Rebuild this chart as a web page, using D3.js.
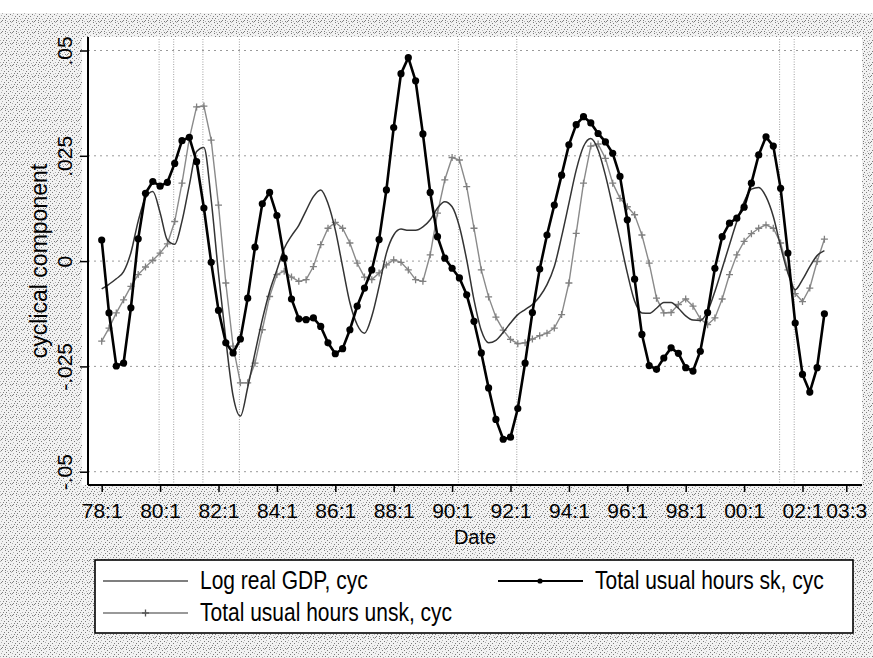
<!DOCTYPE html>
<html>
<head>
<meta charset="utf-8">
<script src="https://cdn.jsdelivr.net/npm/d3@7"></script>
<style>
  body { margin: 0; background: #fff; }
  svg { display: block; font-family: "Liberation Sans", Arial, sans-serif; }
</style>
</head>
<body>
<div id="chart"></div>
<script>
// quarterly data, 78:1 .. 02:4
let startYear = 1978;

let gdpCyc = [
  -0.0066, -0.0055, -0.0042, -0.0025, 0.0020, 0.0095, 0.0150, 0.0165, 0.0115, 0.0050,
  0.0040, 0.0095, 0.0180, 0.0260, 0.0270, 0.0145, -0.0030, -0.0186, -0.0320, -0.0368,
  -0.0300, -0.0218, -0.0139, -0.0072, -0.0021, 0.0030, 0.0060, 0.0085, 0.0120, 0.0153,
  0.0169, 0.0137, 0.0074, -0.0013, -0.0099, -0.0151, -0.0171, -0.0131, -0.0060, 0.0019,
  0.0062, 0.0076, 0.0073, 0.0073, 0.0081, 0.0098, 0.0126, 0.0141, 0.0129, 0.0082,
  0.0003, -0.0092, -0.0165, -0.0194, -0.0188, -0.0169, -0.0147, -0.0127, -0.0115, -0.0103,
  -0.0084, -0.0056, -0.0013, 0.0058, 0.0137, 0.0216, 0.0272, 0.0291, 0.0264, 0.0204,
  0.0129, 0.0051, -0.0028, -0.0095, -0.0123, -0.0124, -0.0112, -0.0098, -0.0098, -0.0112,
  -0.0130, -0.0140, -0.0141, -0.0119, -0.0072, -0.0017, 0.0039, 0.0094, 0.0141, 0.0171,
  0.0175, 0.0153, 0.0106, 0.0035, -0.0028, -0.0068, -0.0044, -0.0013, 0.0013, 0.0025
];

let hoursSk = [
  0.0050, -0.0123, -0.0249, -0.0242, -0.0111, 0.0053, 0.0161, 0.0189, 0.0178, 0.0187,
  0.0232, 0.0286, 0.0294, 0.0236, 0.0126, -0.0003, -0.0117, -0.0194, -0.0218, -0.0185,
  -0.0088, 0.0033, 0.0136, 0.0163, 0.0108, 0.0007, -0.0090, -0.0137, -0.0139, -0.0135,
  -0.0155, -0.0194, -0.0220, -0.0208, -0.0163, -0.0107, -0.0064, -0.0021, 0.0051, 0.0169,
  0.0317, 0.0445, 0.0483, 0.0428, 0.0302, 0.0163, 0.0058, 0.0007, -0.0017, -0.0040,
  -0.0080, -0.0143, -0.0218, -0.0301, -0.0376, -0.0423, -0.0418, -0.0350, -0.0242, -0.0122,
  -0.0019, 0.0062, 0.0133, 0.0204, 0.0276, 0.0324, 0.0343, 0.0328, 0.0303, 0.0283,
  0.0256, 0.0201, 0.0098, -0.0043, -0.0174, -0.0248, -0.0257, -0.0230, -0.0206, -0.0219,
  -0.0253, -0.0261, -0.0214, -0.0122, -0.0017, 0.0058, 0.0090, 0.0102, 0.0128, 0.0185,
  0.0252, 0.0295, 0.0273, 0.0173, 0.0019, -0.0147, -0.0269, -0.0311, -0.0253, -0.0125
];

let hoursUnsk = [
  -0.0190, -0.0159, -0.0123, -0.0092, -0.0060, -0.0032, -0.0014, 0.0002, 0.0019, 0.0041,
  0.0094, 0.0185, 0.0291, 0.0366, 0.0368, 0.0287, 0.0133, -0.0052, -0.0202, -0.0289,
  -0.0289, -0.0242, -0.0163, -0.0084, -0.0032, -0.0024, -0.0038, -0.0048, -0.0044, -0.0013,
  0.0039, 0.0078, 0.0092, 0.0078, 0.0043, -0.0005, -0.0038, -0.0044, -0.0028, -0.0009,
  0.0003, -0.0003, -0.0021, -0.0044, -0.0048, 0.0015, 0.0114, 0.0193, 0.0246, 0.0240,
  0.0177, 0.0078, -0.0021, -0.0085, -0.0133, -0.0164, -0.0186, -0.0196, -0.0194, -0.0185,
  -0.0177, -0.0171, -0.0159, -0.0127, -0.0052, 0.0066, 0.0185, 0.0273, 0.0278, 0.0244,
  0.0185, 0.0149, 0.0129, 0.0110, 0.0062, -0.0005, -0.0088, -0.0123, -0.0122, -0.0103,
  -0.0090, -0.0107, -0.0137, -0.0151, -0.0135, -0.0090, -0.0032, 0.0015, 0.0047, 0.0065,
  0.0078, 0.0086, 0.0078, 0.0043, -0.0021, -0.0077, -0.0096, -0.0064, -0.0001, 0.0052
];

// x ticks, in quarters since 78:1
let xTicks = [0, 8, 16, 24, 32, 40, 48, 56, 64, 72, 80, 88, 96, 102];
let yTicks = [-0.05, -0.025, 0, 0.025, 0.05];
let yTickLabels = ['-.05', '-.025', '0', '.025', '.05'];
// vertical reference lines (quarters)
let refLines = [8, 10, 14, 19, 49, 57, 93, 95];

let seriesNames = ['Log real GDP, cyc', 'Total usual hours sk, cyc', 'Total usual hours unsk, cyc'];

function quarterLabel(q) {
  let yr = (startYear + Math.floor(q / 4)) % 100;
  return String(yr).padStart(2, '0') + ':' + (q % 4 + 1);
}

let width = 873, height = 658;
let svg = d3.select('#chart').append('svg')
  .attr('width', width)
  .attr('height', height);

// scanned halftone look around the plot (hand-placed dots in an 11px tile)
let toneDots = [
  [0, 0], [5, 0], [8, 1], [2, 2], [6, 3], [10, 3], [1, 4], [4, 5], [8, 5],
  [0, 7], [3, 7], [6, 7], [9, 8], [2, 9], [5, 9], [7, 10], [10, 10], [1, 10]
];
let defs = svg.append('defs');
let pat = defs.append('pattern')
  .attr('id', 'tone')
  .attr('width', 11).attr('height', 11)
  .attr('patternUnits', 'userSpaceOnUse');
pat.append('rect').attr('width', 11).attr('height', 11).attr('fill', '#f2f2f2');
toneDots.forEach((p, i) => {
  pat.append('rect')
    .attr('x', p[0]).attr('y', p[1])
    .attr('width', 1).attr('height', 1)
    .attr('fill', i % 3 === 0 ? '#b0b0b0' : '#7c7c7c');
});

svg.append('rect')
  .attr('x', 0).attr('y', 13)
  .attr('width', width).attr('height', height - 13)
  .attr('fill', 'url(#tone)');

let plot = {left: 88, right: 862, top: 37, bottom: 485};

svg.append('rect')
  .attr('x', 82).attr('y', plot.top)
  .attr('width', plot.right - 82).attr('height', plot.bottom - plot.top)
  .attr('fill', '#fff');

let x = d3.scaleLinear().domain([0, 102]).range([101.7, 846.3]);
let y = d3.scaleLinear().domain([-0.05, 0.05]).range([471.7, 50.5]);

// grid
svg.append('g')
  .selectAll('line')
  .data(yTicks)
  .enter()
  .append('line')
  .attr('x1', plot.left).attr('x2', plot.right)
  .attr('y1', d => y(d)).attr('y2', d => y(d))
  .attr('stroke', '#9a9a9a')
  .attr('stroke-width', 1)
  .attr('stroke-dasharray', '2,4');

svg.append('g')
  .selectAll('line')
  .data(refLines)
  .enter()
  .append('line')
  .attr('x1', d => x(d) - 1).attr('x2', d => x(d) - 1)
  .attr('y1', plot.top + 2).attr('y2', plot.bottom)
  .attr('stroke', '#a0a0a0')
  .attr('stroke-width', 1)
  .attr('stroke-dasharray', '1,1.5');

// series
let idx = d3.range(gdpCyc.length);

let line = data => d3.line()
  .x(i => x(i))
  .y(i => y(data[i]));

svg.append('path')
  .datum(idx)
  .attr('d', line(hoursUnsk))
  .attr('fill', 'none')
  .attr('stroke', '#8a8a8a')
  .attr('stroke-width', 1.4);

svg.append('g')
  .selectAll('path')
  .data(idx)
  .enter()
  .append('path')
  .attr('d', i => `M${x(i) - 3.5},${y(hoursUnsk[i])}h7M${x(i)},${y(hoursUnsk[i]) - 3.5}v7`)
  .attr('stroke', '#808080')
  .attr('stroke-width', 1.3);

svg.append('path')
  .datum(idx)
  .attr('d', line(gdpCyc).curve(d3.curveMonotoneX))
  .attr('fill', 'none')
  .attr('stroke', '#333')
  .attr('stroke-width', 1.5);

svg.append('path')
  .datum(idx)
  .attr('d', line(hoursSk))
  .attr('fill', 'none')
  .attr('stroke', '#000')
  .attr('stroke-width', 2.6);

svg.append('g')
  .selectAll('circle')
  .data(idx)
  .enter()
  .append('circle')
  .attr('cx', i => x(i))
  .attr('cy', i => y(hoursSk[i]))
  .attr('r', 3.6)
  .attr('fill', '#000');

// axes
let xAxis = d3.axisBottom(x)
  .tickValues(xTicks)
  .tickFormat(quarterLabel)
  .tickSize(7)
  .tickPadding(11);

let gx = svg.append('g')
  .attr('transform', `translate(0,${plot.bottom})`)
  .call(xAxis);
gx.select('.domain').attr('d', `M${plot.left},0H${plot.right}`).attr('stroke-width', 2);
gx.selectAll('.tick line').attr('stroke-width', 1.5);
gx.selectAll('text')
  .attr('font-size', 21)
  .attr('fill', '#000')
  .style('font-family', '"Liberation Sans", Arial, sans-serif');

let yAxis = d3.axisLeft(y)
  .tickValues(yTicks)
  .tickFormat((d, i) => yTickLabels[i])
  .tickSize(8);

let gy = svg.append('g')
  .attr('transform', `translate(${plot.left},0)`)
  .call(yAxis);
gy.select('.domain').attr('d', `M0,${plot.top}V${plot.bottom}`).attr('stroke-width', 2);
gy.selectAll('.tick line').attr('stroke-width', 1.5);
gy.selectAll('text')
  .attr('font-size', 21)
  .attr('fill', '#000')
  .attr('x', null)
  .attr('dy', null)
  .attr('text-anchor', 'middle')
  .attr('transform', 'translate(-16,0) rotate(-90)')
  .style('font-family', '"Liberation Sans", Arial, sans-serif');

// axis titles
svg.append('text')
  .attr('x', (plot.left + plot.right) / 2)
  .attr('y', 544)
  .attr('text-anchor', 'middle')
  .attr('font-size', 20)
  .text('Date');

svg.append('text')
  .attr('transform', `translate(47,${(plot.top + plot.bottom) / 2}) rotate(-90)`)
  .attr('text-anchor', 'middle')
  .attr('font-size', 23)
  .text('cyclical component');

// legend
let legend = svg.append('g');
legend.append('rect')
  .attr('x', 95).attr('y', 560)
  .attr('width', 758).attr('height', 73)
  .attr('fill', '#fff')
  .attr('stroke', '#000')
  .attr('stroke-width', 1.6);

let legendItems = [
  {name: seriesNames[0], x: 103, y: 581, color: '#555', w: 1.4, mark: null},
  {name: seriesNames[1], x: 498, y: 581, color: '#000', w: 2, mark: 'dot'},
  {name: seriesNames[2], x: 103, y: 613, color: '#777', w: 1.4, mark: 'plus'}
];

legendItems.forEach(it => {
  let g = legend.append('g');
  g.append('line')
    .attr('x1', it.x).attr('x2', it.x + 85)
    .attr('y1', it.y).attr('y2', it.y)
    .attr('stroke', it.color)
    .attr('stroke-width', it.w);
  if (it.mark === 'dot') {
    g.append('circle').attr('cx', it.x + 42).attr('cy', it.y).attr('r', 2.6).attr('fill', '#000');
  }
  if (it.mark === 'plus') {
    g.append('path')
      .attr('d', `M${it.x + 39},${it.y}h7M${it.x + 42.5},${it.y - 3.5}v7`)
      .attr('stroke', '#555').attr('stroke-width', 1.3);
  }
  g.append('text')
    .attr('transform', `translate(${it.x + 97},${it.y + 8}) scale(0.84,1)`)
    .attr('font-size', 25)
    .text(it.name);
});
</script>
</body>
</html>
